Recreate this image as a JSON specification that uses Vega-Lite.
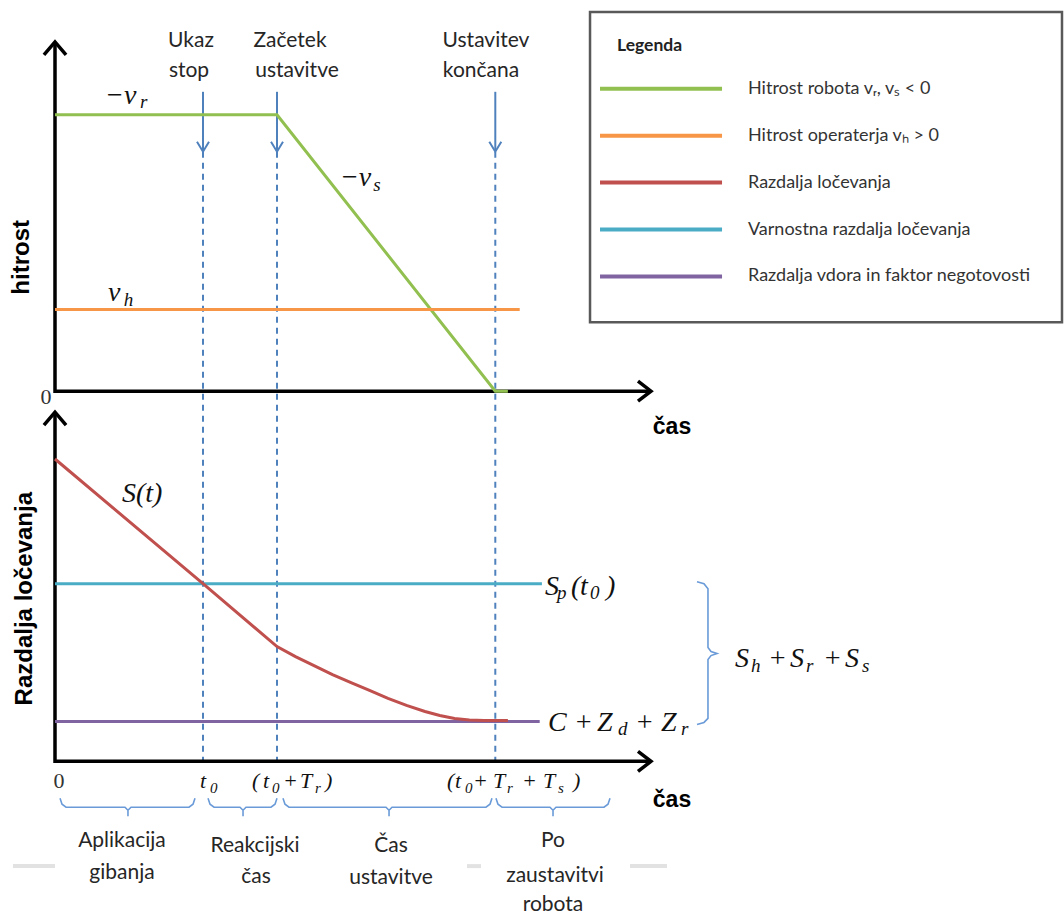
{
  "$schema": "https://vega.github.io/schema/vega-lite/v6.json",
  "width": 1064,
  "height": 915,
  "autosize": {"type": "fit", "contains": "padding"},
  "padding": 0,
  "background": "white",
  "config": {"view": {"stroke": null}},
  "datasets": {
    "topAxes": [
      {"seg": "a", "ord": 1, "t": 0, "v": 2.527},
      {"seg": "a", "ord": 2, "t": 0, "v": 0},
      {"seg": "a", "ord": 3, "t": 8.054, "v": 0}
    ],
    "topTips": [
      {"tip": "up", "t": 0, "v": 2.527},
      {"tip": "right", "t": 8.054, "v": 0}
    ],
    "speed": [
      {"series": "robot", "t": 0, "v": 2.0},
      {"series": "robot", "t": 3.0, "v": 2.0},
      {"series": "robot", "t": 5.95, "v": 0},
      {"series": "robot", "t": 6.12, "v": 0},
      {"series": "operator", "t": 0, "v": 0.59},
      {"series": "operator", "t": 6.28, "v": 0.59}
    ],
    "events": [
      {"event": "Ukaz stop", "t": 2.0},
      {"event": "Začetek ustavitve", "t": 3.0},
      {"event": "Ustavitev končana", "t": 5.95}
    ],
    "eventText": [
      {"label": "Ukaz", "t": 1.838, "v": 2.532},
      {"label": "stop", "t": 1.811, "v": 2.318},
      {"label": "Začetek", "t": 3.176, "v": 2.532},
      {"label": "ustavitve", "t": 3.27, "v": 2.318},
      {"label": "Ustavitev", "t": 5.824, "v": 2.532},
      {"label": "končana", "t": 5.757, "v": 2.318}
    ],
    "topMath": [
      {"label": "−v", "t": 0.676, "v": 2.137, "role": "main"},
      {"label": "r", "t": 1.149, "v": 2.089, "role": "sub"},
      {"label": "v", "t": 0.716, "v": 0.708, "role": "main"},
      {"label": "h", "t": 0.93, "v": 0.657, "role": "sub"},
      {"label": "−v", "t": 3.851, "v": 1.545, "role": "main"},
      {"label": "s", "t": 4.3, "v": 1.49, "role": "sub"}
    ],
    "topLabels": [
      {"kind": "origin", "label": "0", "t": -0.122, "v": -0.043},
      {"kind": "ytitle", "label": "hitrost", "t": -0.446, "v": 0.968},
      {"kind": "xtitle", "label": "čas", "t": 8.338, "v": -0.26}
    ],
    "bottomAxes": [
      {"seg": "a", "ord": 1, "t": 0, "s": 3.5},
      {"seg": "a", "ord": 2, "t": 0, "s": 0},
      {"seg": "a", "ord": 3, "t": 8.054, "s": 0}
    ],
    "bottomTips": [
      {"tip": "up", "t": 0, "s": 3.5},
      {"tip": "right", "t": 8.054, "s": 0}
    ],
    "limits": [
      {"series": "safety", "t": 0, "s": 1.78},
      {"series": "safety", "t": 6.58, "s": 1.78},
      {"series": "intrusion", "t": 0, "s": 0.4},
      {"series": "intrusion", "t": 6.55, "s": 0.4}
    ],
    "separation": [
      {"series": "separation", "t": 0, "s": 3.03},
      {"series": "separation", "t": 2.0, "s": 1.78},
      {"series": "separation", "t": 3.0, "s": 1.15},
      {"series": "separation", "t": 3.25, "s": 1.05},
      {"series": "separation", "t": 3.5, "s": 0.96},
      {"series": "separation", "t": 3.75, "s": 0.87},
      {"series": "separation", "t": 4.0, "s": 0.79},
      {"series": "separation", "t": 4.25, "s": 0.71},
      {"series": "separation", "t": 4.5, "s": 0.63},
      {"series": "separation", "t": 4.75, "s": 0.56},
      {"series": "separation", "t": 5.0, "s": 0.5},
      {"series": "separation", "t": 5.2, "s": 0.46},
      {"series": "separation", "t": 5.4, "s": 0.43},
      {"series": "separation", "t": 5.6, "s": 0.415},
      {"series": "separation", "t": 5.8, "s": 0.41},
      {"series": "separation", "t": 6.12, "s": 0.41}
    ],
    "braces": [
      {"brace": "b1", "ord": 1, "t": 0.068, "s": -0.37},
      {"brace": "b1", "ord": 2, "t": 0.095, "s": -0.43},
      {"brace": "b1", "ord": 3, "t": 0.149, "s": -0.46},
      {"brace": "b1", "ord": 4, "t": 0.946, "s": -0.46},
      {"brace": "b1", "ord": 5, "t": 0.986, "s": -0.49},
      {"brace": "b1", "ord": 6, "t": 0.986, "s": -0.55},
      {"brace": "b1", "ord": 7, "t": 0.986, "s": -0.49},
      {"brace": "b1", "ord": 8, "t": 1.027, "s": -0.46},
      {"brace": "b1", "ord": 9, "t": 1.811, "s": -0.46},
      {"brace": "b1", "ord": 10, "t": 1.865, "s": -0.43},
      {"brace": "b1", "ord": 11, "t": 1.892, "s": -0.37},
      {"brace": "b2", "ord": 1, "t": 2.068, "s": -0.37},
      {"brace": "b2", "ord": 2, "t": 2.095, "s": -0.43},
      {"brace": "b2", "ord": 3, "t": 2.149, "s": -0.46},
      {"brace": "b2", "ord": 4, "t": 2.5, "s": -0.46},
      {"brace": "b2", "ord": 5, "t": 2.541, "s": -0.49},
      {"brace": "b2", "ord": 6, "t": 2.541, "s": -0.55},
      {"brace": "b2", "ord": 7, "t": 2.541, "s": -0.49},
      {"brace": "b2", "ord": 8, "t": 2.581, "s": -0.46},
      {"brace": "b2", "ord": 9, "t": 2.919, "s": -0.46},
      {"brace": "b2", "ord": 10, "t": 2.973, "s": -0.43},
      {"brace": "b2", "ord": 11, "t": 3.0, "s": -0.37},
      {"brace": "b3", "ord": 1, "t": 3.081, "s": -0.37},
      {"brace": "b3", "ord": 2, "t": 3.108, "s": -0.43},
      {"brace": "b3", "ord": 3, "t": 3.162, "s": -0.46},
      {"brace": "b3", "ord": 4, "t": 4.473, "s": -0.46},
      {"brace": "b3", "ord": 5, "t": 4.514, "s": -0.49},
      {"brace": "b3", "ord": 6, "t": 4.514, "s": -0.55},
      {"brace": "b3", "ord": 7, "t": 4.514, "s": -0.49},
      {"brace": "b3", "ord": 8, "t": 4.554, "s": -0.46},
      {"brace": "b3", "ord": 9, "t": 5.824, "s": -0.46},
      {"brace": "b3", "ord": 10, "t": 5.878, "s": -0.43},
      {"brace": "b3", "ord": 11, "t": 5.905, "s": -0.37},
      {"brace": "b4", "ord": 1, "t": 5.959, "s": -0.37},
      {"brace": "b4", "ord": 2, "t": 5.986, "s": -0.43},
      {"brace": "b4", "ord": 3, "t": 6.041, "s": -0.46},
      {"brace": "b4", "ord": 4, "t": 6.689, "s": -0.46},
      {"brace": "b4", "ord": 5, "t": 6.73, "s": -0.49},
      {"brace": "b4", "ord": 6, "t": 6.73, "s": -0.55},
      {"brace": "b4", "ord": 7, "t": 6.73, "s": -0.49},
      {"brace": "b4", "ord": 8, "t": 6.77, "s": -0.46},
      {"brace": "b4", "ord": 9, "t": 7.419, "s": -0.46},
      {"brace": "b4", "ord": 10, "t": 7.473, "s": -0.43},
      {"brace": "b4", "ord": 11, "t": 7.5, "s": -0.37},
      {"brace": "rb", "ord": 1, "t": 8.676, "s": 1.8},
      {"brace": "rb", "ord": 2, "t": 8.77, "s": 1.78},
      {"brace": "rb", "ord": 3, "t": 8.824, "s": 1.73},
      {"brace": "rb", "ord": 4, "t": 8.824, "s": 1.14},
      {"brace": "rb", "ord": 5, "t": 8.865, "s": 1.1},
      {"brace": "rb", "ord": 6, "t": 8.946, "s": 1.08},
      {"brace": "rb", "ord": 7, "t": 8.865, "s": 1.06},
      {"brace": "rb", "ord": 8, "t": 8.824, "s": 1.02},
      {"brace": "rb", "ord": 9, "t": 8.824, "s": 0.43},
      {"brace": "rb", "ord": 10, "t": 8.77, "s": 0.39},
      {"brace": "rb", "ord": 11, "t": 8.676, "s": 0.37}
    ],
    "grayMarks": [
      {"t": -0.568, "t2": 0, "s": -1.05},
      {"t": 5.568, "t2": 5.757, "s": -1.05},
      {"t": 7.77, "t2": 8.27, "s": -1.05}
    ],
    "bottomMath": [
      {"label": "S(t)", "t": 0.905, "s": 2.68, "role": "main"},
      {"label": "S", "t": 6.622, "s": 1.75, "role": "main"},
      {"label": "p", "t": 6.784, "s": 1.69, "role": "sub"},
      {"label": "(", "t": 6.973, "s": 1.75, "role": "main"},
      {"label": "t", "t": 7.095, "s": 1.75, "role": "main"},
      {"label": "0", "t": 7.23, "s": 1.69, "role": "sub"},
      {"label": ")", "t": 7.446, "s": 1.75, "role": "main"},
      {"label": "C", "t": 6.662, "s": 0.38, "role": "main"},
      {"label": "+", "t": 7.014, "s": 0.38, "role": "main"},
      {"label": "Z", "t": 7.324, "s": 0.38, "role": "main"},
      {"label": "d", "t": 7.608, "s": 0.32, "role": "sub"},
      {"label": "+", "t": 7.838, "s": 0.38, "role": "main"},
      {"label": "Z", "t": 8.189, "s": 0.38, "role": "main"},
      {"label": "r", "t": 8.459, "s": 0.32, "role": "sub"},
      {"label": "S", "t": 9.189, "s": 1.03, "role": "main"},
      {"label": "h", "t": 9.405, "s": 0.96, "role": "sub"},
      {"label": "+", "t": 9.635, "s": 1.03, "role": "main"},
      {"label": "S", "t": 9.932, "s": 1.03, "role": "main"},
      {"label": "r", "t": 10.149, "s": 0.96, "role": "sub"},
      {"label": "+", "t": 10.378, "s": 1.03, "role": "main"},
      {"label": "S", "t": 10.676, "s": 1.03, "role": "main"},
      {"label": "s", "t": 10.905, "s": 0.96, "role": "sub"},
      {"label": "t", "t": 1.959, "s": -0.2, "role": "amain"},
      {"label": "0", "t": 2.095, "s": -0.27, "role": "asub"},
      {"label": "(", "t": 2.662, "s": -0.2, "role": "amain"},
      {"label": "t", "t": 2.811, "s": -0.2, "role": "amain"},
      {"label": "0", "t": 2.932, "s": -0.27, "role": "asub"},
      {"label": "+", "t": 3.081, "s": -0.2, "role": "amain"},
      {"label": "T", "t": 3.311, "s": -0.2, "role": "amain"},
      {"label": "r", "t": 3.514, "s": -0.27, "role": "asub"},
      {"label": ")", "t": 3.649, "s": -0.2, "role": "amain"},
      {"label": "(", "t": 5.297, "s": -0.2, "role": "amain"},
      {"label": "t", "t": 5.405, "s": -0.2, "role": "amain"},
      {"label": "0", "t": 5.541, "s": -0.27, "role": "asub"},
      {"label": "+", "t": 5.649, "s": -0.2, "role": "amain"},
      {"label": "T", "t": 5.919, "s": -0.2, "role": "amain"},
      {"label": "r", "t": 6.108, "s": -0.27, "role": "asub"},
      {"label": "+", "t": 6.311, "s": -0.2, "role": "amain"},
      {"label": "T", "t": 6.595, "s": -0.2, "role": "amain"},
      {"label": "s", "t": 6.797, "s": -0.27, "role": "asub"},
      {"label": ")", "t": 7.0, "s": -0.2, "role": "amain"}
    ],
    "phaseText": [
      {"label": "Aplikacija", "t": 0.905, "s": -0.8},
      {"label": "gibanja", "t": 0.905, "s": -1.12},
      {"label": "Reakcijski", "t": 2.703, "s": -0.85},
      {"label": "čas", "t": 2.716, "s": -1.16},
      {"label": "Čas", "t": 4.541, "s": -0.85},
      {"label": "ustavitve", "t": 4.541, "s": -1.17},
      {"label": "Po", "t": 6.73, "s": -0.8},
      {"label": "zaustavitvi", "t": 6.757, "s": -1.15},
      {"label": "robota", "t": 6.73, "s": -1.44}
    ],
    "bottomLabels": [
      {"kind": "origin", "label": "0", "t": 0.054, "s": -0.2},
      {"kind": "ytitle", "label": "Razdalja ločevanja", "t": -0.405, "s": 1.63},
      {"kind": "xtitle", "label": "čas", "t": 8.338, "s": -0.39}
    ],
    "legendItems": [
      {"series": "robot", "label": "Hitrost robota vᵣ, vₛ < 0", "rank": 1},
      {"series": "operator", "label": "Hitrost operaterja vₕ > 0", "rank": 2},
      {"series": "separation", "label": "Razdalja ločevanja", "rank": 3},
      {"series": "safety", "label": "Varnostna razdalja ločevanja", "rank": 4},
      {"series": "intrusion", "label": "Razdalja vdora in faktor negotovosti", "rank": 5}
    ]
  },
  "resolve": {"scale": {"y": "independent"}},
  "layer": [
    {
      "encoding": {
        "x": {"field": "t", "type": "quantitative", "scale": {"domain": [-0.7432, 13.6351], "nice": false, "zero": false}, "axis": null}
      },
      "layer": [
        {
          "data": {"name": "events"},
          "mark": {"type": "rule", "color": "#4f81bd", "strokeWidth": 2, "strokeDash": [6, 5]},
          "encoding": {
            "y": {"datum": 1.733, "type": "quantitative", "scale": {"domain": [-3.7762, 2.8303], "nice": false, "zero": false}, "axis": null},
            "y2": {"datum": -2.679}
          }
        },
        {
          "data": {"name": "events"},
          "mark": {"type": "rule", "color": "#4f81bd", "strokeWidth": 2},
          "encoding": {
            "y": {"datum": 2.166, "type": "quantitative", "scale": {"domain": [-3.7762, 2.8303], "nice": false, "zero": false}, "axis": null},
            "y2": {"datum": 1.745}
          }
        },
        {
          "data": {"name": "events"},
          "mark": {"type": "point", "shape": "M-0.6,-1L0,0L0.6,-1", "size": 400, "filled": false, "color": "#4f81bd", "strokeWidth": 2, "opacity": 1},
          "encoding": {
            "y": {"datum": 1.733, "type": "quantitative", "scale": {"domain": [-3.7762, 2.8303], "nice": false, "zero": false}, "axis": null}
          }
        },
        {
          "data": {"name": "topAxes"},
          "mark": {"type": "line", "color": "black", "strokeWidth": 3.5, "strokeJoin": "miter"},
          "encoding": {
            "y": {"field": "v", "type": "quantitative", "scale": {"domain": [-3.7762, 2.8303], "nice": false, "zero": false}, "axis": null},
            "detail": {"field": "seg"},
            "order": {"field": "ord", "type": "quantitative"}
          }
        },
        {
          "data": {"name": "topTips"},
          "transform": [{"filter": "datum.tip === 'up'"}],
          "mark": {"type": "point", "shape": "M-0.85,1L0,0L0.85,1", "size": 676, "filled": false, "color": "black", "strokeWidth": 3.5, "opacity": 1},
          "encoding": {
            "y": {"field": "v", "type": "quantitative", "scale": {"domain": [-3.7762, 2.8303], "nice": false, "zero": false}, "axis": null}
          }
        },
        {
          "data": {"name": "topTips"},
          "transform": [{"filter": "datum.tip === 'right'"}],
          "mark": {"type": "point", "shape": "M-1,-0.77L0,0L-1,0.77", "size": 676, "filled": false, "color": "black", "strokeWidth": 3.5, "opacity": 1},
          "encoding": {
            "y": {"field": "v", "type": "quantitative", "scale": {"domain": [-3.7762, 2.8303], "nice": false, "zero": false}, "axis": null}
          }
        },
        {
          "data": {"name": "speed"},
          "mark": {"type": "line", "strokeWidth": 3},
          "encoding": {
            "y": {"field": "v", "type": "quantitative", "scale": {"domain": [-3.7762, 2.8303], "nice": false, "zero": false}, "axis": null},
            "color": {"field": "series", "type": "nominal", "scale": {"domain": ["robot", "operator", "separation", "safety", "intrusion"], "range": ["#92c050", "#f79646", "#c0504d", "#4bacc6", "#8064a2"]}, "legend": null}
          }
        },
        {
          "data": {"name": "eventText"},
          "mark": {"type": "text", "font": "Lato", "fontSize": 21, "color": "#262626", "align": "center", "baseline": "middle"},
          "encoding": {
            "y": {"field": "v", "type": "quantitative", "scale": {"domain": [-3.7762, 2.8303], "nice": false, "zero": false}, "axis": null},
            "text": {"field": "label"}
          }
        },
        {
          "data": {"name": "topMath"},
          "transform": [{"filter": "datum.role === 'main'"}],
          "mark": {"type": "text", "font": "Liberation Serif", "fontStyle": "italic", "fontSize": 28, "color": "#111", "align": "left", "baseline": "middle"},
          "encoding": {
            "y": {"field": "v", "type": "quantitative", "scale": {"domain": [-3.7762, 2.8303], "nice": false, "zero": false}, "axis": null},
            "text": {"field": "label"}
          }
        },
        {
          "data": {"name": "topMath"},
          "transform": [{"filter": "datum.role === 'sub'"}],
          "mark": {"type": "text", "font": "Liberation Serif", "fontStyle": "italic", "fontSize": 19, "color": "#111", "align": "left", "baseline": "middle"},
          "encoding": {
            "y": {"field": "v", "type": "quantitative", "scale": {"domain": [-3.7762, 2.8303], "nice": false, "zero": false}, "axis": null},
            "text": {"field": "label"}
          }
        },
        {
          "data": {"name": "topLabels"},
          "transform": [{"filter": "datum.kind === 'origin'"}],
          "mark": {"type": "text", "font": "Liberation Serif", "fontSize": 22, "color": "#333", "align": "center", "baseline": "middle"},
          "encoding": {
            "y": {"field": "v", "type": "quantitative", "scale": {"domain": [-3.7762, 2.8303], "nice": false, "zero": false}, "axis": null},
            "text": {"field": "label"}
          }
        },
        {
          "data": {"name": "topLabels"},
          "transform": [{"filter": "datum.kind === 'ytitle'"}],
          "mark": {"type": "text", "font": "Liberation Sans", "fontWeight": "bold", "fontSize": 24, "color": "black", "align": "center", "baseline": "middle", "angle": 270},
          "encoding": {
            "y": {"field": "v", "type": "quantitative", "scale": {"domain": [-3.7762, 2.8303], "nice": false, "zero": false}, "axis": null},
            "text": {"field": "label"}
          }
        },
        {
          "data": {"name": "topLabels"},
          "transform": [{"filter": "datum.kind === 'xtitle'"}],
          "mark": {"type": "text", "font": "Liberation Sans", "fontWeight": "bold", "fontSize": 23, "color": "black", "align": "center", "baseline": "middle"},
          "encoding": {
            "y": {"field": "v", "type": "quantitative", "scale": {"domain": [-3.7762, 2.8303], "nice": false, "zero": false}, "axis": null},
            "text": {"field": "label"}
          }
        }
      ]
    },
    {
      "encoding": {
        "x": {"field": "t", "type": "quantitative", "scale": {"domain": [-0.7432, 13.6351], "nice": false, "zero": false}, "axis": null},
        "y": {"field": "s", "type": "quantitative", "scale": {"domain": [-1.52, 7.63], "nice": false, "zero": false}, "axis": null}
      },
      "layer": [
        {
          "data": {"name": "grayMarks"},
          "mark": {"type": "rule", "color": "#e2e2e2", "strokeWidth": 4},
          "encoding": {"x2": {"field": "t2"}}
        },
        {
          "data": {"name": "bottomAxes"},
          "mark": {"type": "line", "color": "black", "strokeWidth": 3.5, "strokeJoin": "miter"},
          "encoding": {"detail": {"field": "seg"}, "order": {"field": "ord", "type": "quantitative"}}
        },
        {
          "data": {"name": "bottomTips"},
          "transform": [{"filter": "datum.tip === 'up'"}],
          "mark": {"type": "point", "shape": "M-0.85,1L0,0L0.85,1", "size": 676, "filled": false, "color": "black", "strokeWidth": 3.5, "opacity": 1}
        },
        {
          "data": {"name": "bottomTips"},
          "transform": [{"filter": "datum.tip === 'right'"}],
          "mark": {"type": "point", "shape": "M-1,-0.77L0,0L-1,0.77", "size": 676, "filled": false, "color": "black", "strokeWidth": 3.5, "opacity": 1}
        },
        {
          "data": {"name": "limits"},
          "mark": {"type": "line", "strokeWidth": 3},
          "encoding": {
            "color": {"field": "series", "type": "nominal", "scale": {"domain": ["robot", "operator", "separation", "safety", "intrusion"], "range": ["#92c050", "#f79646", "#c0504d", "#4bacc6", "#8064a2"]}, "legend": null}
          }
        },
        {
          "data": {"name": "separation"},
          "mark": {"type": "line", "strokeWidth": 3},
          "encoding": {
            "color": {"field": "series", "type": "nominal", "scale": {"domain": ["robot", "operator", "separation", "safety", "intrusion"], "range": ["#92c050", "#f79646", "#c0504d", "#4bacc6", "#8064a2"]}, "legend": null}
          }
        },
        {
          "data": {"name": "braces"},
          "mark": {"type": "line", "color": "#6a9bd8", "strokeWidth": 1.6},
          "encoding": {"detail": {"field": "brace"}, "order": {"field": "ord", "type": "quantitative"}}
        },
        {
          "data": {"name": "bottomMath"},
          "transform": [{"filter": "datum.role === 'main'"}],
          "mark": {"type": "text", "font": "Liberation Serif", "fontStyle": "italic", "fontSize": 28, "color": "#111", "align": "left", "baseline": "middle"},
          "encoding": {"text": {"field": "label"}}
        },
        {
          "data": {"name": "bottomMath"},
          "transform": [{"filter": "datum.role === 'sub'"}],
          "mark": {"type": "text", "font": "Liberation Serif", "fontStyle": "italic", "fontSize": 19, "color": "#111", "align": "left", "baseline": "middle"},
          "encoding": {"text": {"field": "label"}}
        },
        {
          "data": {"name": "bottomMath"},
          "transform": [{"filter": "datum.role === 'amain'"}],
          "mark": {"type": "text", "font": "Liberation Serif", "fontStyle": "italic", "fontSize": 22, "color": "#111", "align": "left", "baseline": "middle"},
          "encoding": {"text": {"field": "label"}}
        },
        {
          "data": {"name": "bottomMath"},
          "transform": [{"filter": "datum.role === 'asub'"}],
          "mark": {"type": "text", "font": "Liberation Serif", "fontStyle": "italic", "fontSize": 15, "color": "#111", "align": "left", "baseline": "middle"},
          "encoding": {"text": {"field": "label"}}
        },
        {
          "data": {"name": "phaseText"},
          "mark": {"type": "text", "font": "Lato", "fontSize": 21, "color": "#262626", "align": "center", "baseline": "middle"},
          "encoding": {"text": {"field": "label"}}
        },
        {
          "data": {"name": "bottomLabels"},
          "transform": [{"filter": "datum.kind === 'origin'"}],
          "mark": {"type": "text", "font": "Liberation Serif", "fontSize": 22, "color": "#333", "align": "center", "baseline": "middle"},
          "encoding": {"text": {"field": "label"}}
        },
        {
          "data": {"name": "bottomLabels"},
          "transform": [{"filter": "datum.kind === 'ytitle'"}],
          "mark": {"type": "text", "font": "Liberation Sans", "fontWeight": "bold", "fontSize": 24, "color": "black", "align": "center", "baseline": "middle", "angle": 270},
          "encoding": {"text": {"field": "label"}}
        },
        {
          "data": {"name": "bottomLabels"},
          "transform": [{"filter": "datum.kind === 'xtitle'"}],
          "mark": {"type": "text", "font": "Liberation Sans", "fontWeight": "bold", "fontSize": 23, "color": "black", "align": "center", "baseline": "middle"},
          "encoding": {"text": {"field": "label"}}
        }
      ]
    },
    {
      "data": {"name": "legendItems"},
      "layer": [
        {
          "mark": {"type": "rect", "fill": "white", "stroke": "#595959", "strokeWidth": 2.5},
          "transform": [{"filter": "datum.rank === 1"}],
          "encoding": {
            "x": {"datum": 7.23, "type": "quantitative", "scale": {"domain": [-0.7432, 13.6351], "nice": false, "zero": false}, "axis": null},
            "x2": {"datum": 13.608},
            "y": {"datum": -0.638, "type": "quantitative", "scale": {"domain": [-0.8936, 18.574], "nice": false, "zero": false, "reverse": true}, "axis": null},
            "y2": {"datum": 5.979}
          }
        },
        {
          "mark": {"type": "text", "font": "Lato", "fontWeight": "bold", "fontSize": 17.5, "color": "#222", "align": "left", "baseline": "middle"},
          "transform": [{"filter": "datum.rank === 1"}],
          "encoding": {
            "x": {"datum": 7.595, "type": "quantitative"},
            "y": {"datum": 0.085, "type": "quantitative", "scale": {"domain": [-0.8936, 18.574], "nice": false, "zero": false, "reverse": true}, "axis": null},
            "text": {"value": "Legenda"}
          }
        },
        {
          "mark": {"type": "rule", "strokeWidth": 4},
          "encoding": {
            "x": {"datum": 7.365, "type": "quantitative"},
            "x2": {"datum": 9.014},
            "y": {"field": "rank", "type": "quantitative", "scale": {"domain": [-0.8936, 18.574], "nice": false, "zero": false, "reverse": true}, "axis": null},
            "color": {"field": "series", "type": "nominal", "scale": {"domain": ["robot", "operator", "separation", "safety", "intrusion"], "range": ["#92c050", "#f79646", "#c0504d", "#4bacc6", "#8064a2"]}, "legend": null}
          }
        },
        {
          "mark": {"type": "text", "font": "Lato", "fontSize": 18, "color": "#333", "align": "left", "baseline": "middle"},
          "encoding": {
            "x": {"datum": 9.365, "type": "quantitative"},
            "y": {"field": "rank", "type": "quantitative", "scale": {"domain": [-0.8936, 18.574], "nice": false, "zero": false, "reverse": true}, "axis": null},
            "text": {"field": "label"}
          }
        }
      ]
    }
  ]
}
